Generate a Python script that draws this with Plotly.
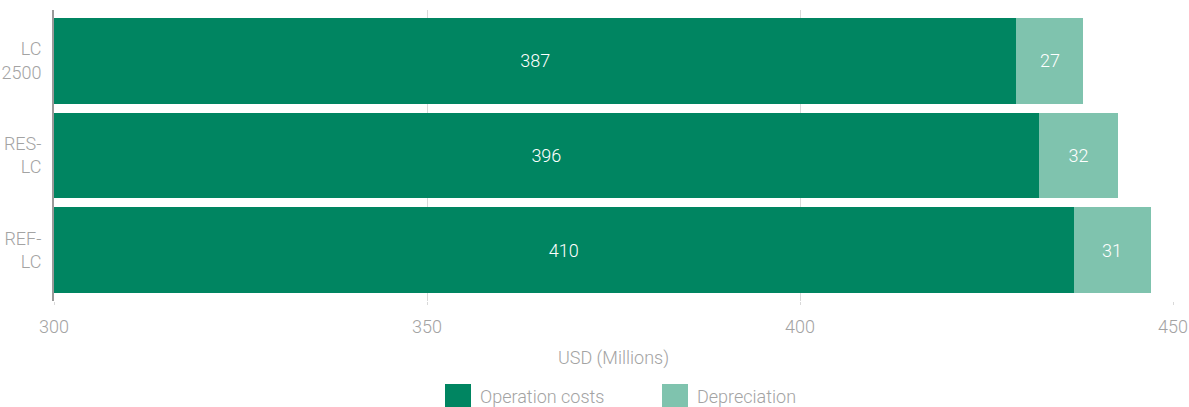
import plotly.graph_objects as go

categories = ["LC<br>2500", "RES-<br>LC", "REF-<br>LC"]
operation_costs = [387, 396, 410]
depreciation = [27, 32, 31]
tick_values = [0, 150, 300, 450]
tick_labels = ["300", "350", "400", "450"]
series_names = ["Operation costs", "Depreciation"]

DARK = "#008561"
LIGHT = "#7fc3ae"
GRAY = "#a3a3a3"
FONT = "Roboto, sans-serif"
FS = 18

def f(color=GRAY):
    return dict(color=color, size=FS, family=FONT, weight=300)

fig = go.Figure()
for name, vals, col in [(series_names[0], operation_costs, DARK), (series_names[1], depreciation, LIGHT)]:
    fig.add_trace(go.Bar(
        y=categories, x=vals, name=name, orientation="h",
        marker=dict(color=col, line=dict(width=0)),
        text=[str(v) for v in vals], textposition="inside",
        insidetextanchor="middle", textangle=0,
        textfont=f("white"),
        showlegend=False, hoverinfo="x+name",
    ))

W, H = 1189, 407
L, R, T, B = 54, 16, 10, 106
pw, ph = W - L - R, H - T - B

def px(x):
    return (x - L) / pw

def py(y):
    return (H - B - y) / ph

shapes = []
annotations = []
legend_x = [445, 662]
for name, col, lx in zip(series_names, [DARK, LIGHT], legend_x):
    shapes.append(dict(type="rect", xref="paper", yref="paper",
                       x0=px(lx), x1=px(lx + 26), y0=py(410), y1=py(384),
                       fillcolor=col, line=dict(width=0)))
    annotations.append(dict(xref="paper", yref="paper", x=px(lx + 33), y=py(396),
                            text=name, showarrow=False, xanchor="left", yanchor="middle",
                            font=f()))

fig.update_layout(
    width=W, height=H,
    margin=dict(l=L, r=R, t=T, b=B, autoexpand=False),
    barmode="stack", bargap=0.095,
    plot_bgcolor="white", paper_bgcolor="white",
    font=f(),
    showlegend=False,
    shapes=shapes, annotations=annotations,
    xaxis=dict(
        range=[0, 450], tickvals=tick_values, ticktext=tick_labels,
        showgrid=True, gridcolor="#d9d9d9", gridwidth=1,
        zeroline=False, showline=False, automargin=False,
        ticks="outside", ticklen=3, tickcolor="#d9d9d9",
        ticklabelstandoff=6,
        tickfont=f(),
        title=dict(text="USD (Millions)", font=f(), standoff=15),
    ),
    yaxis=dict(
        type="category", range=[2.535, -0.535], automargin=False,
        showline=True, linecolor="#9a9a9a", linewidth=2,
        showgrid=False, ticks="", ticklabelstandoff=7,
        tickfont=f(),
    ),
)

fig.write_html("out.html",
               config={"displayModeBar": False},
               post_script="document.body.style.margin='0';document.body.style.overflow='hidden';")
